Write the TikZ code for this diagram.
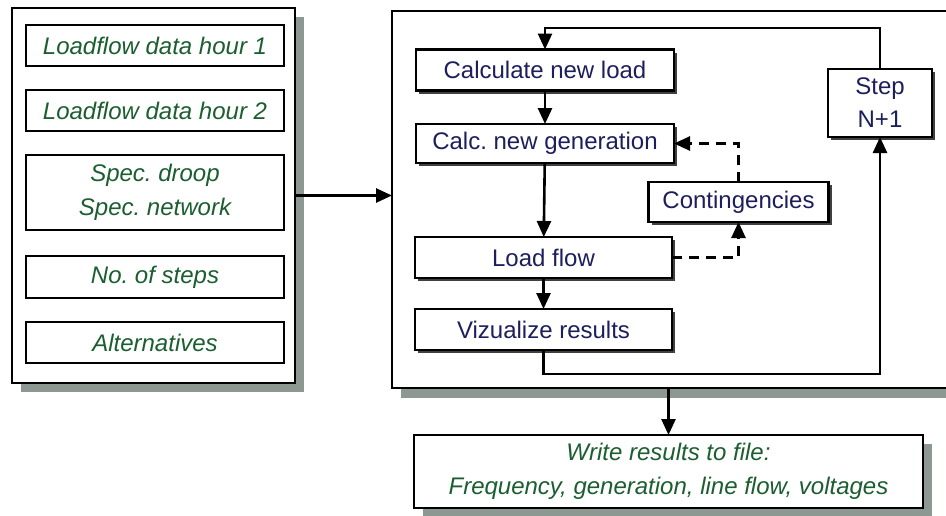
\documentclass[tikz,border=0pt]{standalone}
\usepackage{fontspec}
\setmainfont{Liberation Sans}
\usetikzlibrary{arrows.meta,shadows}
\definecolor{datagreen}{HTML}{1B5E30}
\definecolor{flownavy}{HTML}{1C1F5C}
\definecolor{shadegray}{HTML}{8E9893}
\frenchspacing
\begin{document}
\begin{tikzpicture}[x=1pt,y=-1pt,
    frame/.style={draw,line width=2pt,fill=white,inner sep=0pt,outer sep=0pt,
      drop shadow={shadow xshift=9pt,shadow yshift=-9pt,fill=shadegray,opacity=1}},
    data/.style={draw,line width=2pt,fill=white,inner sep=0pt,outer sep=0pt,
      minimum width=258pt,minimum height=41pt,align=center,text=datagreen,
      font=\fontsize{24}{34}\selectfont\itshape},
    flow/.style={draw,line width=2.2pt,fill=white,inner sep=0pt,outer sep=0pt,
      minimum width=258pt,minimum height=40pt,align=center,text=flownavy,
      font=\fontsize{24}{33}\selectfont,
      drop shadow={shadow xshift=3pt,shadow yshift=-3pt,fill=black!75,opacity=1}},
    link/.style={line width=2.6pt,-{Triangle[length=16pt,width=14pt]}},
    dashlink/.style={link,dash pattern=on 10pt off 7pt}]
  \clip (0,0) rectangle (946,515);
  % input data
  \node (inbox) at(153.5,195.5) [frame,minimum width=283pt,minimum height=375pt] {};
  \node (hour1) at(155,45.5) [data] {Loadflow data hour 1};
  \node (hour2) at(155,110.5) [data] {Loadflow data hour 2};
  \node (spec) at(155,192.5) [data,minimum height=75pt] {Spec. droop\\Spec. network};
  \node (nsteps) at(155,277) [data,minimum height=42pt] {No. of steps};
  \node (altern) at(155,342.5) [data] {Alternatives};
  % simulation loop
  \node (simbox) at(672,199.5) [frame,minimum width=560pt,minimum height=377pt,
    drop shadow={shadow xshift=9pt,shadow yshift=-10pt,fill=shadegray,opacity=1}] {};
  \node (calcload) at(545,70) [flow,minimum height=41pt] {Calculate new load};
  \node (calcgen) at(545,143.5) [flow,minimum height=39pt] {Calc. new generation};
  \node (loadflow) at(543.5,257.5) [flow,minimum width=257pt,minimum height=41pt] {Load flow};
  \node (vizual) at(543.5,329.5) [flow,minimum width=257pt,minimum height=41pt] {Vizualize results};
  \node (conting) at(738.5,202) [flow,minimum width=180pt] {Contingencies};
  \node (stepn) at(880,103) [flow,minimum width=104pt,minimum height=68pt] {Step\\N+1};
  % output
  \node (writebox) at(668.5,471.5) [data,minimum width=509pt,minimum height=73pt,
    drop shadow={shadow xshift=9pt,shadow yshift=-9pt,fill=shadegray,opacity=1}]
    {Write results to file:\\Frequency, generation, line flow, voltages};

  \draw[link] (inbox.east) -- (inbox.east -| simbox.west);
  \draw[link] (calcload) -- (calcgen);
  \draw[link] (calcgen) -- (loadflow);
  \draw[link] (loadflow) -- (vizual);
  \draw[link] (vizual.south) -- ++(0,24) -| (stepn.south);
  \draw[link] (stepn.north) -- ++(0,-41) -| (calcload.north);
  \draw[dashlink] (loadflow.east) -| (conting.south);
  \draw[dashlink] (conting.north) |- (calcgen.east);
  \draw[link] (simbox.south -| writebox.north) -- (writebox.north);
\end{tikzpicture}
\end{document}
